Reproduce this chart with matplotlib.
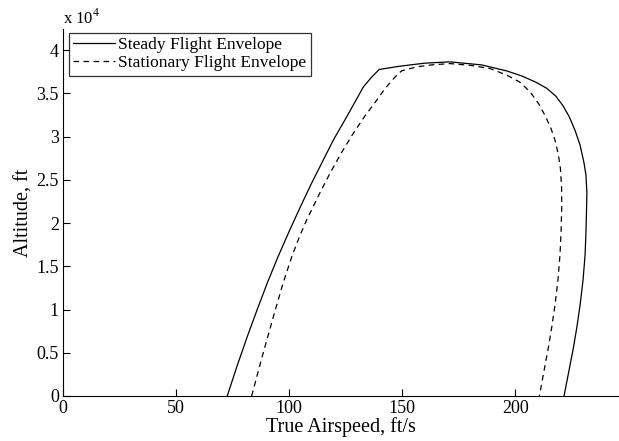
import matplotlib
matplotlib.use("Agg")
import matplotlib.pyplot as plt
from matplotlib.ticker import FuncFormatter, MultipleLocator

plt.rcParams["font.family"] = ["Liberation Serif", "DejaVu Serif"]
plt.rcParams["mathtext.fontset"] = "custom"
plt.rcParams["mathtext.rm"] = "Liberation Serif"

# steady flight envelope (true airspeed ft/s, altitude ft)
steady_speed = [72.6, 77.0, 81.5, 86.0, 90.5, 95.2, 100.0, 104.8, 109.5,
                114.3, 119.5, 125.0, 129.5, 132.8, 136.5, 139.8, 149.0,
                160.0, 171.0, 185.0, 196.2, 203.0, 209.0, 213.8, 217.8,
                221.0, 223.8, 226.4, 228.6, 230.3, 231.2, 231.6, 231.5,
                231.2, 230.8, 229.9, 228.6, 227.2, 225.6, 221.5]
steady_alt = [0, 3500, 6900, 10100, 13200, 16200, 19050, 21800, 24400,
              26900, 29600, 32100, 34200, 35760, 36900, 37770, 38150,
              38500, 38650, 38300, 37600, 37000, 36300, 35600, 34700,
              33600, 32300, 30700, 29020, 27000, 25550, 23500, 22080,
              19000, 16300, 13400, 10520, 8000, 5510, 0]

# stationary flight envelope
stat_speed = [83.4, 88.0, 93.0, 97.0, 101.1, 104.5, 107.7, 113.0, 118.0,
              123.0, 128.3, 133.5, 138.7, 142.5, 146.8, 149.7, 156.4, 163.0,
              171.0, 180.0, 188.8, 196.2, 202.0, 206.5, 210.3, 213.4, 215.8,
              217.6, 219.0, 219.9, 220.4, 220.5, 220.2, 219.7, 218.8, 217.5,
              216.1, 214.5, 210.6]
stat_alt = [0, 4500, 9170, 12800, 16100, 18400, 20350, 23200, 25750,
            28100, 30370, 32400, 34220, 35600, 36910, 37610, 38070, 38300,
            38450, 38250, 37880, 37110, 36300, 35180, 33800, 32300, 30900,
            29500, 27900, 26300, 24300, 22080, 19000, 16300, 13400, 10520,
            8000, 5510, 0]

fig = plt.figure(figsize=(6.19, 4.41), dpi=100)
ax = fig.add_axes([63 / 619, 45 / 441, 556 / 619, 367 / 441])

ax.plot(steady_speed, steady_alt, color="black", lw=0.9, ls="-",
        label="Steady Flight Envelope")
ax.plot(stat_speed, stat_alt, color="black", lw=0.9, ls=(0, (4.5, 3.5)),
        label="Stationary Flight Envelope")

ax.set_xlim(0, 245.8)
ax.set_ylim(0, 42450)
ax.xaxis.set_major_locator(MultipleLocator(50))
ax.yaxis.set_major_locator(MultipleLocator(5000))
ax.yaxis.set_major_formatter(FuncFormatter(lambda v, p: f"{v / 1e4:g}"))

for side in ("top", "right"):
    ax.spines[side].set_visible(False)
for side in ("left", "bottom"):
    ax.spines[side].set_linewidth(0.8)
ax.tick_params(direction="in", length=5, width=0.8, labelsize=13,
               top=False, right=False, pad=3)

ax.text(0, 1.003, r"x 10$^4$", transform=ax.transAxes, fontsize=12,
        ha="left", va="bottom")

ax.set_xlabel("True Airspeed, ft/s", fontsize=14.5, labelpad=0)
ax.set_ylabel("Altitude, ft", fontsize=14.5, labelpad=2)

leg = ax.legend(loc="upper left", bbox_to_anchor=(0.01, 0.99),
                fontsize=12.5, frameon=True, fancybox=False,
                handlelength=2.4, handletextpad=0.2, borderpad=0.25,
                labelspacing=0.12, borderaxespad=0)
leg.get_frame().set_edgecolor("black")
leg.get_frame().set_linewidth(0.9)

fig.savefig("out.png", dpi=100)
